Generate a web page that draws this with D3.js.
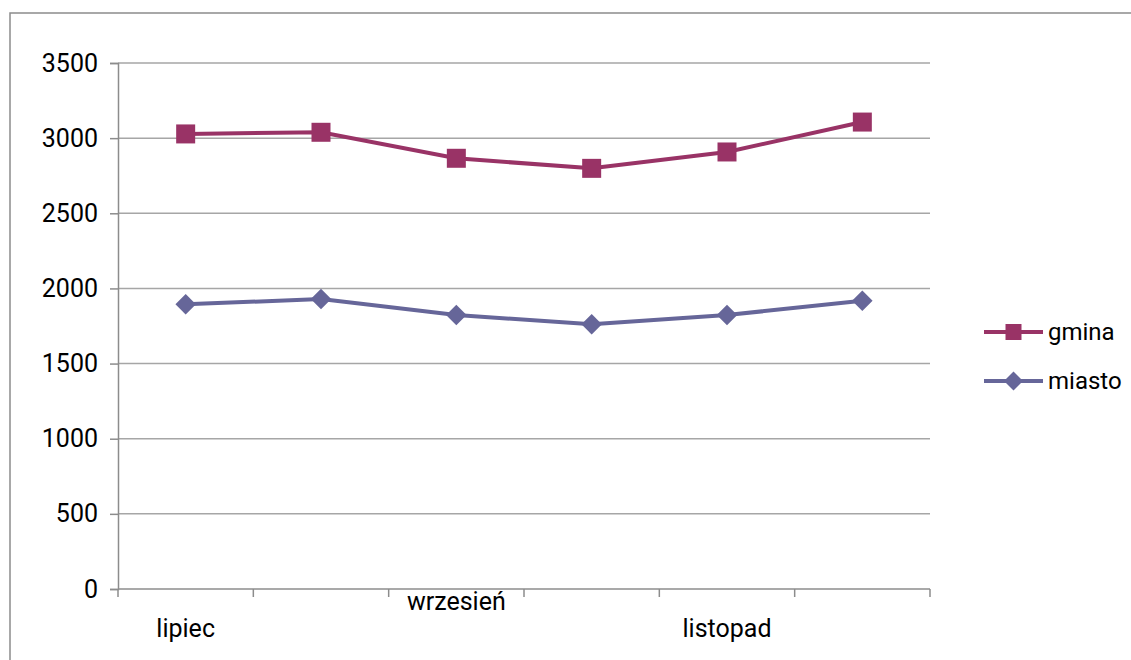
<!DOCTYPE html>
<html>
<head>
<meta charset="utf-8">
<script src="https://cdn.jsdelivr.net/npm/d3@7"></script>
<style>
  body { margin: 0; background: #fff; }
  svg { display: block; font-family: Roboto, "Open Sans", sans-serif; }
</style>
</head>
<body>
<svg id="chart"></svg>
<script>
// data
const months = ["lipiec", "sierpień", "wrzesień", "październik", "listopad", "grudzień"];
const gmina = [3028, 3039, 2866, 2799, 2908, 3107];
const miasto = [1894, 1930, 1823, 1761, 1823, 1918];
const yTicks = [0, 500, 1000, 1500, 2000, 2500, 3000, 3500];
const shownLabels = ["lipiec", "wrzesień", "listopad"];

const series = [
    { name: "gmina", values: gmina, color: "#993366", size: 361, rotate: 0 },
    { name: "miasto", values: miasto, color: "#666699", size: 210, rotate: 45 }
];

const width = 1131, height = 660;
const margin = { top: 63, left: 118 };
const plotW = 812, plotH = 526;

const svg = d3.select("#chart").attr("width", width).attr("height", height);

// outer chart frame (right and bottom edges fall outside the picture)
svg.append("rect")
    .attr("x", 10).attr("y", 13)
    .attr("width", 1200).attr("height", 700)
    .attr("fill", "none")
    .attr("stroke", "#8c8c8c")
    .attr("stroke-width", 1.5);

const x = d3.scaleBand().domain(months).range([0, plotW]).padding(0);
const y = d3.scaleLinear().domain([0, 3500]).range([plotH, 0]);

const g = svg.append("g").attr("transform", `translate(${margin.left},${margin.top})`);

// gridlines
g.append("g")
    .selectAll("line")
    .data(yTicks.filter(d => d > 0))
    .join("line")
    .attr("x1", 0).attr("x2", plotW)
    .attr("y1", d => y(d)).attr("y2", d => y(d))
    .attr("stroke", "#a6a6a6")
    .attr("stroke-width", 1.5);

// y axis
const yAxis = g.append("g")
    .call(d3.axisLeft(y).tickValues(yTicks).tickFormat(d3.format("d")).tickSize(8).tickPadding(12));
yAxis.select(".domain").attr("stroke", "#8c8c8c").attr("stroke-width", 1.5);
yAxis.selectAll(".tick line").attr("stroke", "#8c8c8c").attr("stroke-width", 1.5);
yAxis.selectAll(".tick text")
    .attr("fill", "#000")
    .style("font-size", "25px")
    .style("font-family", "Roboto, sans-serif");

// x axis: baseline, ticks between categories, staggered labels
const xAxis = g.append("g").attr("transform", `translate(0,${plotH})`);
xAxis.append("line")
    .attr("x1", 0).attr("x2", plotW)
    .attr("stroke", "#8c8c8c").attr("stroke-width", 1.5);
xAxis.selectAll(".xtick")
    .data(months.map(m => x(m)).concat([plotW]))
    .join("line")
    .attr("class", "xtick")
    .attr("x1", d => d).attr("x2", d => d)
    .attr("y1", 0).attr("y2", 8)
    .attr("stroke", "#8c8c8c").attr("stroke-width", 1.5);
xAxis.selectAll(".xlabel")
    .data(shownLabels)
    .join("text")
    .attr("class", "xlabel")
    .attr("x", d => x(d) + x.bandwidth() / 2)
    .attr("y", (d, i) => i % 2 === 1 ? 21 : 48)
    .attr("text-anchor", "middle")
    .style("font-size", "25px")
    .text(d => d);

// lines and markers
const line = d3.line()
    .x((d, i) => x(months[i]) + x.bandwidth() / 2)
    .y(d => y(d));

series.forEach(s => {
    g.append("path")
        .datum(s.values)
        .attr("fill", "none")
        .attr("stroke", s.color)
        .attr("stroke-width", 4)
        .attr("d", line);
    g.selectAll(null)
        .data(s.values)
        .join("path")
        .attr("transform", (d, i) => `translate(${x(months[i]) + x.bandwidth() / 2},${y(d)}) rotate(${s.rotate})`)
        .attr("d", d3.symbol().type(d3.symbolSquare).size(s.size))
        .attr("fill", s.color);
});

// legend
const legend = svg.append("g").attr("transform", "translate(984,332)");
series.forEach((s, i) => {
    const row = legend.append("g").attr("transform", `translate(0,${i * 49})`);
    row.append("line")
        .attr("x1", 0).attr("x2", 59)
        .attr("stroke", s.color).attr("stroke-width", 4);
    row.append("path")
        .attr("transform", `translate(29.5,0) rotate(${s.rotate})`)
        .attr("d", d3.symbol().type(d3.symbolSquare).size(s.rotate ? 180 : 256))
        .attr("fill", s.color);
    row.append("text")
        .attr("x", 64).attr("y", 8)
        .style("font-size", "24px")
        .text(s.name);
});
</script>
</body>
</html>
